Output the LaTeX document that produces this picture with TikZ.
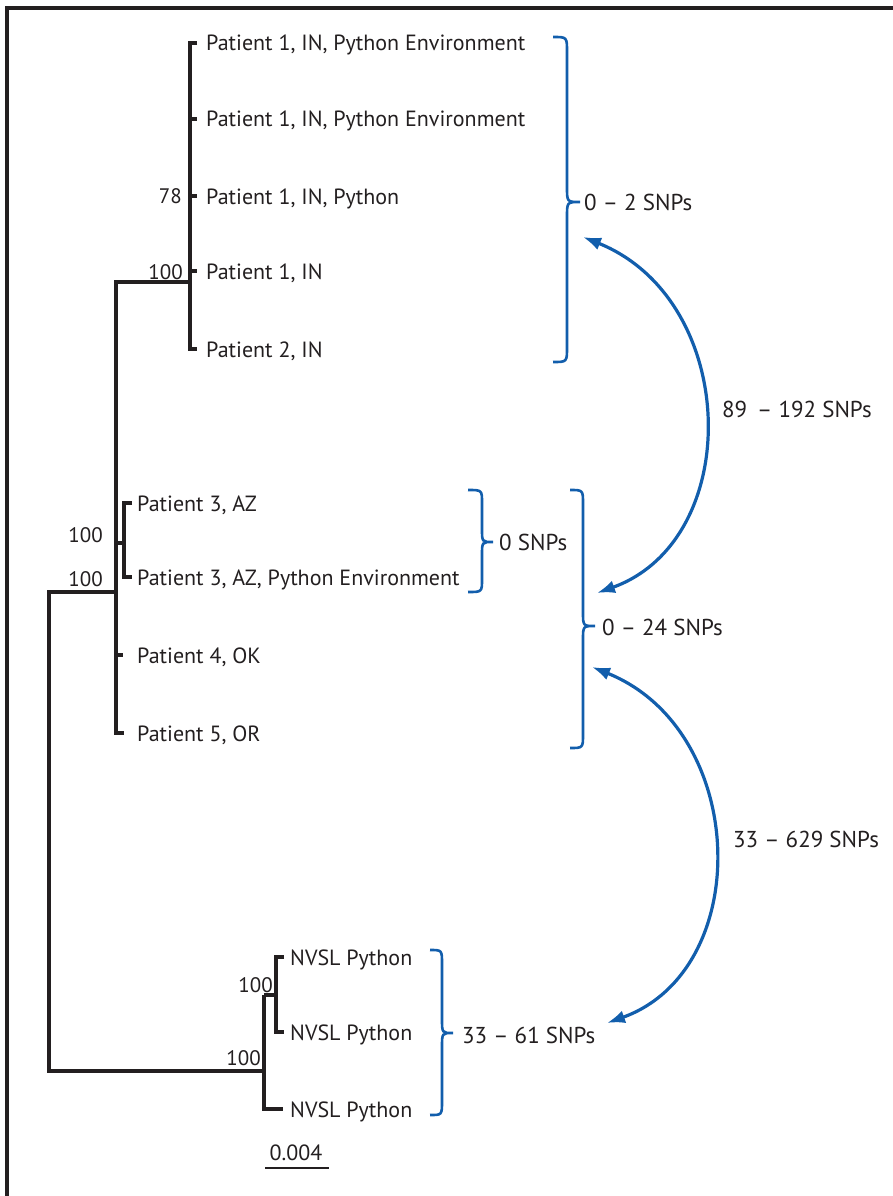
\documentclass[tikz,border=0pt]{standalone}
\usepackage{fontspec}
\setmainfont{PT Sans}
\usetikzlibrary{arrows.meta}
\definecolor{ink}{RGB}{35,31,32}
\definecolor{snpblue}{RGB}{18,94,172}
\newcommand\snpbrace[7]{%
  \draw[bracestyle] (#1,#4) .. controls (#2,#4) .. (#2,#4+#7) -- (#2,#5-#7)
    .. controls (#2,#5) .. (#3,#5) .. controls (#2,#5) .. (#2,#5+#7)
    -- (#2,#6-#7) .. controls (#2,#6) .. (#1,#6);}
\begin{document}
\begin{tikzpicture}[x=1pt,y=-1pt,
  treeline/.style={draw=ink, line width=3.2pt, line join=miter},
  lab/.style={anchor=base west, inner sep=0pt, font=\fontsize{22}{22}\selectfont, text=ink},
  num/.style={anchor=base east, inner sep=0pt, font=\fontsize{21}{21}\selectfont, text=ink},
  snp/.style={anchor=base west, inner sep=0pt, font=\fontsize{23}{23}\selectfont, text=ink},
  bracestyle/.style={draw=snpblue, line width=2.6pt},
  arcstyle/.style={draw=snpblue, line width=3.2pt,
    {Latex[length=18pt,width=13pt]}-{Latex[length=18pt,width=13pt]}},
  frame/.style={draw=ink, line width=3.2pt}]
\useasboundingbox (0,0) rectangle (893,1196);
% frame (top and left edges)
\draw[frame] (7,1196) -- (7,8) -- (893,8);

% ---- tree coordinates
\coordinate (t1) at (190,43);  \coordinate (t1e) at (197,43);
\coordinate (t2) at (190,119); \coordinate (t2e) at (197,119);
\coordinate (t3) at (190,196); \coordinate (t3e) at (197,196);
\coordinate (t4) at (190,271); \coordinate (t4e) at (197,271);
\coordinate (t5) at (190,349); \coordinate (t5e) at (197,349);
\coordinate (nIN) at (190,282); \coordinate (mIN) at (116,282);
\coordinate (mAZ) at (116,543); \coordinate (nAZ) at (124,543);
\coordinate (a1) at (124,503); \coordinate (a1e) at (132,503);
\coordinate (a2) at (124,577); \coordinate (a2e) at (132,577);
\coordinate (mOK) at (116,655); \coordinate (mOKe) at (123,655);
\coordinate (mOR) at (116,733); \coordinate (mORe) at (124,733);
\coordinate (mRoot) at (116,592); \coordinate (r1) at (49,592);
\coordinate (r2) at (49,1071); \coordinate (nNV) at (264,1071);
\coordinate (nv0) at (264,995); \coordinate (nv3) at (264,1109); \coordinate (nv3e) at (283,1109);
\coordinate (nv0e) at (276,995);
\coordinate (nv1) at (276,957); \coordinate (nv1e) at (284,957);
\coordinate (nv2) at (276,1032); \coordinate (nv2e) at (284,1032);

% ---- tree branches
\draw[treeline] (t1e) -- (t1) -- (t5) -- (t5e);
\draw[treeline] (t2) -- (t2e);
\draw[treeline] (t3) -- (t3e);
\draw[treeline] (t4) -- (t4e);
\draw[treeline] (nIN) -- (mIN) -- (mOR) -- (mORe);
\draw[treeline] (mAZ) -- (nAZ);
\draw[treeline] (a1e) -- (a1) -- (a2) -- (a2e);
\draw[treeline] (mOK) -- (mOKe);
\draw[treeline] (mRoot) -- (r1) -- (r2) -- (nNV);
\draw[treeline] (nv0) -- (nv3) -- (nv3e);
\draw[treeline] (nv0) -- (nv0e);
\draw[treeline] (nv1e) -- (nv1) -- (nv2) -- (nv2e);

% ---- leaf labels
\node[lab] (L1) at (206,51) {Patient 1, IN, Python Environment};
\node[lab] (L2) at (206,127) {Patient 1, IN, Python Environment};
\node[lab] (L3) at (206,204) {Patient 1, IN, Python};
\node[lab] (L4) at (206,279) {Patient 1, IN};
\node[lab] (L5) at (206,357) {Patient 2, IN};
\node[lab] (L6) at (137,511) {Patient 3, AZ};
\node[lab] (L7) at (137,585) {Patient 3, AZ, Python Environment};
\node[lab] (L8) at (137,663) {Patient 4, OK};
\node[lab] (L9) at (137,741) {Patient 5, OR};
\node[lab] (L10) at (290,965) {NVSL Python};
\node[lab] (L11) at (290,1040) {NVSL Python};
\node[lab] (L12) at (290,1117) {NVSL Python};

% ---- bootstrap values
\node[num] (b1) at (182,203) {78};
\node[num] (b2) at (183,279) {100};
\node[num] (b3) at (103,542) {100};
\node[num] (b4) at (103,586) {100};
\node[num] (b5) at (273,992) {100};
\node[num] (b6) at (261,1065) {100};

% ---- scale bar
\coordinate (sb1) at (265,1168); \coordinate (sb2) at (329,1168);
\draw[ink, line width=2.4pt] (sb1) -- (sb2);
\node[anchor=base, inner sep=0pt, font=\fontsize{22}{22}\selectfont, text=ink] (sbl) at (296,1160) {0.004};

% ---- braces
\snpbrace{553}{567}{580}{37}{202}{362}{15}
\snpbrace{468}{482}{493}{490}{542}{592}{13}
\snpbrace{570}{583}{595}{490}{626}{748}{14}
\snpbrace{430}{442}{453}{950}{1033}{1115}{14}

\node[snp] (s1) at (584,210) {0 – 2 SNPs};
\node[snp] (s2) at (499,550) {0 SNPs};
\node[snp] (s3) at (602,635) {0 – 24 SNPs};
\node[snp] (s4) at (462,1043) {33 – 61 SNPs};
\node[snp] (s5) at (722,417) {89 \,– 192 SNPs};
\node[snp] (s6) at (733,847) {33 – 629 SNPs};

% ---- arcs
\coordinate (A1) at (583,237); \coordinate (B1) at (597,593);
\coordinate (A2) at (592,667); \coordinate (B2) at (607,1023);
\draw[arcstyle] (A1) .. controls (740,300) and (745,540) .. (B1);
\draw[arcstyle] (A2) .. controls (749,730) and (755,970) .. (B2);
\end{tikzpicture}
\end{document}
